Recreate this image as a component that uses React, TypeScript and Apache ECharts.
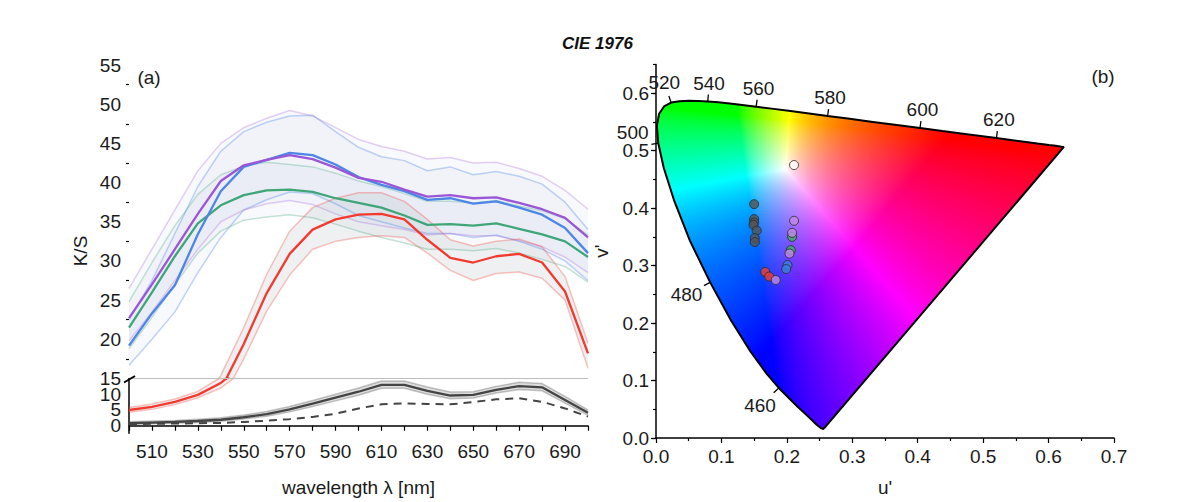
import React, { useEffect, useRef } from 'react';
import * as echarts from 'echarts';

// ---------- Panel (a): K/S spectra ----------
const WAVELENGTH = [500, 510, 520, 530, 540, 550, 560, 570, 580, 590, 600, 610, 620, 630, 640, 650, 660, 670, 680, 690, 700];

const BLUE = [19.2, 23.3, 26.9, 33.4, 38.9, 42.0, 42.9, 43.8, 43.5, 42.3, 40.7, 39.7, 38.9, 37.8, 38.0, 37.3, 37.6, 36.8, 35.9, 34.2, 31.0];
const BLUE_HI = [22.5, 27.5, 33.5, 39.5, 44.0, 46.5, 47.7, 48.5, 48.6, 46.5, 44.5, 43.3, 42.8, 41.5, 42.0, 41.0, 41.4, 40.8, 39.8, 37.5, 34.0];
const BLUE_LO = [16.7, 20.0, 23.5, 28.5, 33.0, 36.5, 37.8, 38.8, 38.6, 37.3, 35.8, 35.0, 34.2, 33.5, 33.5, 33.0, 33.3, 32.5, 31.5, 30.0, 27.5];

const PURPLE = [22.7, 27.0, 31.5, 36.0, 40.2, 42.2, 42.9, 43.5, 43.0, 41.9, 40.6, 40.1, 39.1, 38.2, 38.4, 38.0, 38.1, 37.4, 36.6, 35.5, 33.0];
const PURPLE_HI = [26.5, 31.5, 36.5, 41.5, 45.0, 47.0, 48.2, 49.2, 48.5, 47.0, 45.5, 44.6, 44.0, 43.0, 43.2, 42.5, 42.6, 41.8, 40.8, 39.0, 36.6];
const PURPLE_LO = [19.8, 23.5, 27.5, 31.5, 35.0, 36.5, 37.3, 37.7, 37.2, 36.0, 35.0, 34.5, 34.0, 33.3, 33.5, 33.2, 33.2, 32.6, 31.8, 30.5, 28.5];

const GREEN = [21.5, 26.0, 30.6, 34.8, 37.1, 38.4, 39.0, 39.1, 38.8, 38.0, 37.4, 36.8, 35.8, 34.6, 34.7, 34.5, 34.8, 34.1, 33.4, 32.5, 30.5];
const GREEN_HI = [24.8, 29.8, 34.5, 38.5, 41.0, 42.1, 42.6, 42.3, 42.0, 41.2, 40.2, 39.5, 38.6, 37.6, 37.6, 37.4, 37.7, 37.0, 36.4, 35.4, 33.3];
const GREEN_LO = [18.8, 22.8, 27.0, 31.0, 33.8, 35.2, 35.6, 35.9, 35.5, 34.7, 33.8, 33.0, 32.3, 31.5, 31.5, 31.3, 31.6, 31.0, 30.2, 29.3, 27.3];

const RED = [5.0, 6.0, 7.6, 9.8, 13.6, 19.4, 25.9, 30.9, 34.0, 35.3, 35.9, 36.0, 35.3, 32.7, 30.4, 29.8, 30.6, 30.9, 29.8, 26.1, 18.2];
const RED_HI = [5.8, 6.9, 8.5, 10.9, 15.4, 21.5, 28.3, 33.8, 36.8, 38.0, 38.7, 38.7, 37.6, 35.3, 32.7, 31.9, 32.5, 32.8, 31.8, 28.0, 19.5];
const RED_LO = [4.3, 5.2, 6.7, 8.9, 12.0, 17.5, 23.6, 28.2, 31.5, 32.5, 33.0, 33.2, 33.0, 31.0, 28.8, 27.5, 28.4, 28.6, 27.8, 25.0, 16.3];

const BLACK = [0.8, 1.0, 1.2, 1.5, 1.9, 2.7, 3.7, 5.2, 7.0, 8.9, 10.8, 13.0, 13.0, 11.1, 9.6, 9.8, 11.4, 12.6, 12.2, 8.2, 4.1];
const BLACK_HI = [1.3, 1.5, 1.7, 2.1, 2.5, 3.4, 4.5, 6.1, 8.0, 10.0, 12.0, 14.2, 14.2, 12.3, 10.7, 10.8, 12.5, 13.8, 13.4, 9.3, 5.0];
const BLACK_LO = [0.4, 0.6, 0.8, 1.0, 1.4, 2.1, 3.0, 4.4, 6.1, 7.9, 9.7, 11.9, 11.9, 10.0, 8.6, 8.8, 10.4, 11.5, 11.1, 7.2, 3.3];
const BLACK_DASH = [0.5, 0.6, 0.7, 0.8, 0.9, 1.2, 1.6, 2.1, 2.8, 3.8, 5.5, 6.8, 7.1, 6.9, 6.8, 7.5, 8.4, 8.7, 7.6, 5.5, 2.9];

const X_LABELS = [510, 530, 550, 570, 590, 610, 630, 650, 670, 690];
const Y_UPPER_LABELS = [20, 25, 30, 35, 40, 45, 50, 55];
const Y_LOWER_LABELS_A = [0, 10];
const Y_LOWER_LABELS_B = [5, 15];
const Y_LOWER_MINOR = [2.5, 7.5, 12.5];
const BREAK_AT = 15;

// ---------- Panel (b): CIE 1976 u'v' ----------
const LOCUS_NM = [380, 400, 420, 430, 440, 450, 460, 465, 470, 475, 480, 485, 490, 495, 500, 505, 510, 515, 520, 525, 530, 535, 540, 545, 550, 555, 560, 565, 570, 575, 580, 585, 590, 595, 600, 605, 610, 620, 630, 640, 650, 660, 680, 700];
const LOCUS_U = [0.2568, 0.2557, 0.2522, 0.2461, 0.2347, 0.2161, 0.1877, 0.1690, 0.1441, 0.1147, 0.0828, 0.0521, 0.0282, 0.0119, 0.0035, 0.0014, 0.0046, 0.0123, 0.0231, 0.0360, 0.0501, 0.0643, 0.0792, 0.0953, 0.1127, 0.1319, 0.1531, 0.1766, 0.2026, 0.2312, 0.2623, 0.2960, 0.3315, 0.3681, 0.4035, 0.4379, 0.4692, 0.5203, 0.5565, 0.5830, 0.6005, 0.6109, 0.6199, 0.6234];
const LOCUS_V = [0.0166, 0.0159, 0.0169, 0.0226, 0.0350, 0.0549, 0.0871, 0.1119, 0.1510, 0.2044, 0.2708, 0.3427, 0.4117, 0.4698, 0.5131, 0.5432, 0.5638, 0.5770, 0.5837, 0.5861, 0.5868, 0.5865, 0.5856, 0.5841, 0.5821, 0.5796, 0.5766, 0.5732, 0.5694, 0.5651, 0.5604, 0.5554, 0.5501, 0.5446, 0.5393, 0.5342, 0.5296, 0.5219, 0.5165, 0.5125, 0.5099, 0.5084, 0.5070, 0.5065];
const LOCUS_LABEL_NM = [460, 480, 500, 520, 540, 560, 580, 600, 620];

const U_MAX = 0.7;
const V_MAX = 0.65;
const UV_LABELS = [0, 0.1, 0.2, 0.3, 0.4, 0.5, 0.6];

const PTS_WHITE = [[0.211, 0.475]];
const PTS_GRAY = [[0.150, 0.407], [0.150, 0.381], [0.150, 0.375], [0.149, 0.371], [0.154, 0.361], [0.151, 0.348], [0.151, 0.341]];
const PTS_GREEN = [[0.208, 0.350], [0.206, 0.327]];
const PTS_PURPLE = [[0.211, 0.378], [0.208, 0.357], [0.204, 0.321]];
const PTS_BLUE = [[0.201, 0.301], [0.199, 0.294]];
const PTS_RED = [[0.167, 0.289], [0.173, 0.281]];
const PTS_PURPLE2 = [[0.183, 0.275]];

const FONT = 'Liberation Sans, Arial, sans-serif';
const TXT = '#1a1a1a';
const FS = 19;

function band(id: string, lo: number[], hi: number[], edge: string, fill: string, xi: number, yi: number) {
  return [
    {
      type: 'line', xAxisIndex: xi, yAxisIndex: yi, stack: id + xi, data: lo, symbol: 'none', silent: true, z: 1,
      lineStyle: { color: edge, width: 1.5 },
    },
    {
      type: 'line', xAxisIndex: xi, yAxisIndex: yi, stack: id + xi, data: hi.map((h, i) => h - lo[i]), symbol: 'none', silent: true, z: 1,
      lineStyle: { color: edge, width: 1.5 }, areaStyle: { color: fill, opacity: 1 },
    },
  ];
}

function mainLine(data: number[], color: string, xi: number, yi: number, extra: any = {}) {
  return {
    type: 'line', xAxisIndex: xi, yAxisIndex: yi, data, symbol: 'none', silent: true, z: 3,
    lineStyle: { color, width: 2.3 }, ...extra,
  };
}

const gamutCache: Record<string, string> = {};
function gamutImage(W: number, H: number): string {
  const key = W + 'x' + H;
  if (gamutCache[key]) return gamutCache[key];
  const c = document.createElement('canvas');
  c.width = W; c.height = H;
  const ctx = c.getContext('2d')!;
  const img = ctx.createImageData(W, H);
  const d = img.data;
  const n = LOCUS_U.length;
  const gam = (x: number) => (x <= 0.0031308 ? 12.92 * x : 1.055 * Math.pow(x, 1 / 2.4) - 0.055);
  const SAT = 1.5;
  for (let j = 0; j < H; j++) {
    const v = V_MAX * (1 - (j + 0.5) / H);
    const xs: number[] = [];
    for (let k = 0; k < n; k++) {
      const k2 = (k + 1) % n;
      const v1 = LOCUS_V[k], v2 = LOCUS_V[k2];
      if ((v1 > v) !== (v2 > v)) xs.push(LOCUS_U[k] + ((v - v1) / (v2 - v1)) * (LOCUS_U[k2] - LOCUS_U[k]));
    }
    xs.sort((a, b) => a - b);
    for (let i = 0; i < W; i++) {
      const u = U_MAX * ((i + 0.5) / W);
      let inside = false;
      for (const x of xs) if (u > x) inside = !inside;
      if (!inside) continue;
      const den = 6 * u - 16 * v + 12;
      const x = (9 * u) / den, y = (4 * v) / den;
      const X = x / y, Z = (1 - x - y) / y;
      let r = 3.2406 * X - 1.5372 - 0.4986 * Z;
      let g = -0.9689 * X + 1.8758 + 0.0415 * Z;
      let b = 0.0557 * X - 0.204 + 1.057 * Z;
      r = Math.max(r, 0); g = Math.max(g, 0); b = Math.max(b, 0);
      const m = Math.max(r, g, b) || 1;
      const idx = (j * W + i) * 4;
      d[idx] = Math.round(255 * gam(Math.pow(r / m, SAT)));
      d[idx + 1] = Math.round(255 * gam(Math.pow(g / m, SAT)));
      d[idx + 2] = Math.round(255 * gam(Math.pow(b / m, SAT)));
      d[idx + 3] = 255;
    }
  }
  ctx.putImageData(img, 0, 0);
  const url = c.toDataURL();
  gamutCache[key] = url;
  return url;
}

const axisLineStyle = { color: '#000', width: 1.5 };
const tickLine = { color: '#000', width: 1.2 };
const labelStyle = { color: TXT, fontSize: FS, fontFamily: FONT, hideOverlap: false };

function scatter(data: number[][], color: string, z: number) {
  return {
    type: 'scatter', xAxisIndex: 2, yAxisIndex: 4, data, symbol: 'circle', symbolSize: 9, silent: true, z,
    itemStyle: { color, borderColor: '#2a2a2a', borderWidth: 1 },
  };
}

function buildOption(): any {
  const edgeBlue = 'rgba(77,134,230,0.35)';
  const edgePurple = 'rgba(170,100,220,0.3)';
  const edgeGreen = 'rgba(63,166,121,0.3)';
  const edgeRed = 'rgba(242,58,46,0.3)';
  const edgeBlack = 'rgba(70,70,70,0.3)';
  const fillCol = 'rgba(160,170,210,0.07)';
  const fillRed = 'rgba(150,160,170,0.16)';
  const fillBlack = 'rgba(120,120,120,0.25)';
  const cats = WAVELENGTH.map(String);
  const lowerY = (labels: number[] | null, ticks: number[], tickLen: number, showLine: boolean) => ({
    type: 'value', gridIndex: 1, min: -2.4, max: BREAK_AT, position: 'left',
    axisLine: { show: showLine, lineStyle: axisLineStyle },
    axisTick: { length: tickLen, customValues: ticks, lineStyle: tickLine },
    axisLabel: labels ? { ...labelStyle, margin: 8, customValues: labels } : { show: false },
    splitLine: { show: false },
  });

  return {
    animation: false,
    backgroundColor: '#fff',
    title: {
      text: 'CIE 1976', left: 'center', top: 30,
      textStyle: { fontSize: 17, fontStyle: 'italic', fontWeight: 'bold', fontFamily: FONT, color: '#111' },
    },
    grid: [
      { left: 129, top: 65, width: 459, height: 313.5 },
      { left: 129, top: 378.5, width: 459, height: 54.8 },
      { left: 656, top: 64.5, width: 458, height: 373.8 },
    ],
    xAxis: [
      { type: 'category', gridIndex: 0, data: cats, boundaryGap: false, show: false },
      {
        type: 'category', gridIndex: 1, data: cats, boundaryGap: false,
        axisLine: { lineStyle: axisLineStyle },
        axisTick: { length: 5, interval: 0, lineStyle: tickLine },
        axisLabel: { ...labelStyle, margin: 9, interval: 0, formatter: (v: string) => (X_LABELS.includes(Number(v)) ? v : '') },
        splitLine: { show: false },
        name: 'wavelength λ [nm]', nameLocation: 'middle', nameGap: 45,
        nameTextStyle: { color: TXT, fontSize: 19, fontFamily: FONT },
      },
      {
        type: 'value', gridIndex: 2, min: 0, max: U_MAX, interval: 0.1,
        axisLine: { lineStyle: axisLineStyle }, axisTick: { length: 5, lineStyle: tickLine },
        minorTick: { show: true, splitNumber: 2, length: 3, lineStyle: tickLine },
        axisLabel: { ...labelStyle, margin: 9, formatter: (v: number) => v.toFixed(1) },
        splitLine: { show: false }, minorSplitLine: { show: false },
        name: "u'", nameLocation: 'middle', nameGap: 40,
        nameTextStyle: { color: TXT, fontSize: 19, fontFamily: FONT },
      },
    ],
    yAxis: [
      {
        type: 'value', gridIndex: 0, min: BREAK_AT, max: 55, interval: 5,
        axisLine: { lineStyle: axisLineStyle }, axisTick: { length: 5, lineStyle: tickLine },
        minorTick: { show: true, splitNumber: 2, length: 3, lineStyle: tickLine },
        axisLabel: { ...labelStyle, margin: 8, formatter: (v: number) => (Y_UPPER_LABELS.includes(Math.round(v)) ? String(Math.round(v)) : '') },
        splitLine: { show: false }, minorSplitLine: { show: false },
      },
      lowerY(Y_LOWER_LABELS_A, Y_LOWER_LABELS_A, 5, true),
      lowerY(Y_LOWER_LABELS_B, Y_LOWER_LABELS_B, 5, false),
      lowerY(null, Y_LOWER_MINOR, 3, false),
      {
        type: 'value', gridIndex: 2, min: 0, max: V_MAX,
        axisLine: { lineStyle: axisLineStyle },
        axisTick: { length: 5, customValues: UV_LABELS, lineStyle: tickLine },
        axisLabel: { ...labelStyle, margin: 7, customValues: UV_LABELS, formatter: (v: number) => v.toFixed(1) },
        splitLine: { show: false },
        name: "v'", nameLocation: 'middle', nameGap: 45,
        nameTextStyle: { color: TXT, fontSize: 19, fontFamily: FONT },
      },
      {
        type: 'value', gridIndex: 2, min: 0, max: V_MAX, interval: 0.05, position: 'left',
        axisLine: { show: false },
        axisTick: { length: 3, lineStyle: tickLine },
        axisLabel: { show: false }, splitLine: { show: false },
      },
    ],
    graphic: [
      { type: 'text', x: 80, y: 251, rotation: Math.PI / 2, style: { text: 'K/S', align: 'center', verticalAlign: 'middle', fontSize: 19, fontFamily: FONT, fill: TXT } },
      { type: 'text', x: 149, y: 77, style: { text: '(a)', align: 'center', verticalAlign: 'middle', fontSize: FS, fontFamily: FONT, fill: TXT } },
      { type: 'text', x: 1103, y: 76, style: { text: '(b)', align: 'center', verticalAlign: 'middle', fontSize: FS, fontFamily: FONT, fill: TXT } },
    ],
    series: [
      // bands upper part
      ...band('blue', BLUE_LO, BLUE_HI, edgeBlue, fillCol, 0, 0),
      ...band('purple', PURPLE_LO, PURPLE_HI, edgePurple, fillCol, 0, 0),
      ...band('green', GREEN_LO, GREEN_HI, edgeGreen, fillCol, 0, 0),
      ...band('red', RED_LO, RED_HI, edgeRed, fillRed, 0, 0),
      // bands lower part
      ...band('red', RED_LO, RED_HI, edgeRed, fillRed, 1, 1),
      ...band('black', BLACK_LO, BLACK_HI, edgeBlack, fillBlack, 1, 1),
      // main lines
      mainLine(GREEN, '#3fa679', 0, 0),
      mainLine(BLUE, '#4d86e6', 0, 0),
      mainLine(PURPLE, '#9b56d8', 0, 0),
      mainLine(RED, '#f23a2e', 0, 0),
      mainLine(RED, '#f23a2e', 1, 1),
      mainLine(BLACK_DASH, '#444', 1, 1, { lineStyle: { color: '#444', width: 2, type: [8, 6] } }),
      mainLine(BLACK, '#444', 1, 1, {
        markLine: {
          silent: true, symbol: 'none', label: { show: false },
          lineStyle: { color: '#bdbdbd', width: 1, type: 'solid' },
          data: [{ yAxis: BREAK_AT }],
        },
      }),
      // axis break mark (single slash across the axis)
      {
        type: 'custom', xAxisIndex: 1, yAxisIndex: 1, data: [[cats[0], BREAK_AT]], silent: true, z: 10, clip: false,
        renderItem: (_p: any, api: any) => {
          const p = api.coord([api.value(0), api.value(1)]);
          return {
            type: 'line', shape: { x1: p[0] - 5, y1: p[1] + 4, x2: p[0] + 6, y2: p[1] - 2.5 },
            style: { stroke: '#000', lineWidth: 2 },
          };
        },
      },
      // gamut colour fill
      {
        type: 'custom', xAxisIndex: 2, yAxisIndex: 4, data: [[0, V_MAX]], silent: true, z: 1, clip: false,
        renderItem: (_p: any, api: any) => {
          const p0 = api.coord([0, V_MAX]);
          const p1 = api.coord([U_MAX, 0]);
          const W = Math.round(p1[0] - p0[0]);
          const H = Math.round(p1[1] - p0[1]);
          return { type: 'image', style: { image: gamutImage(W, H), x: p0[0], y: p0[1], width: W, height: H } };
        },
      },
      // spectral locus outline
      {
        type: 'line', xAxisIndex: 2, yAxisIndex: 4, symbol: 'none', silent: true, z: 4,
        data: [...LOCUS_U.map((u, i) => [u, LOCUS_V[i]]), [LOCUS_U[0], LOCUS_V[0]]],
        lineStyle: { color: '#000', width: 2 },
      },
      // wavelength ticks + labels
      {
        type: 'custom', xAxisIndex: 2, yAxisIndex: 4, silent: true, z: 5, clip: false,
        data: LOCUS_LABEL_NM.map((nm) => { const k = LOCUS_NM.indexOf(nm); return [LOCUS_U[k], LOCUS_V[k], nm]; }),
        renderItem: (_params: any, api: any) => {
          const nm = api.value(2);
          const k = LOCUS_NM.indexOf(nm);
          const p = api.coord([LOCUS_U[k], LOCUS_V[k]]);
          const pa = api.coord([LOCUS_U[k - 1], LOCUS_V[k - 1]]);
          const pb = api.coord([LOCUS_U[k + 1], LOCUS_V[k + 1]]);
          const tx = pb[0] - pa[0], ty = pb[1] - pa[1];
          const len = Math.hypot(tx, ty) || 1;
          const nx = ty / len, ny = -tx / len;
          const tick = 7;
          const off = tick + 3 + 15 * Math.abs(nx) + 7 * Math.abs(ny);
          const lx = p[0] + nx * off;
          let ly = p[1] + ny * off;
          const left = api.coord([0, 0])[0];
          if (lx < left) ly -= 15;
          return {
            type: 'group', children: [
              { type: 'line', shape: { x1: p[0], y1: p[1], x2: p[0] + nx * tick, y2: p[1] + ny * tick }, style: { stroke: '#000', lineWidth: 1.3 } },
              { type: 'text', x: lx, y: ly, style: { text: String(nm), align: 'center', verticalAlign: 'middle', fontSize: FS, lineHeight: 16, fontFamily: FONT, fill: TXT } },
            ],
          };
        },
      },
      // sample points
      scatter(PTS_WHITE, '#ffffff', 6),
      scatter(PTS_GRAY, '#555555', 6),
      scatter(PTS_GREEN, '#3fae5c', 6),
      scatter(PTS_PURPLE, '#c08be0', 7),
      scatter(PTS_BLUE, '#3a7fdc', 7),
      scatter(PTS_RED, '#f23c2e', 7),
      scatter(PTS_PURPLE2, '#c08be0', 8),
    ],
  };
}

export default function App() {
  const ref = useRef<HTMLDivElement>(null);
  useEffect(() => {
    if (!ref.current) return;
    const chart = echarts.init(ref.current, null, { renderer: 'svg' });
    chart.setOption(buildOption());
    return () => chart.dispose();
  }, []);
  return (
    <div
      ref={ref}
      style={{ position: 'fixed', left: 0, top: 0, width: 1195, height: 502, background: '#fff' }}
    />
  );
}
